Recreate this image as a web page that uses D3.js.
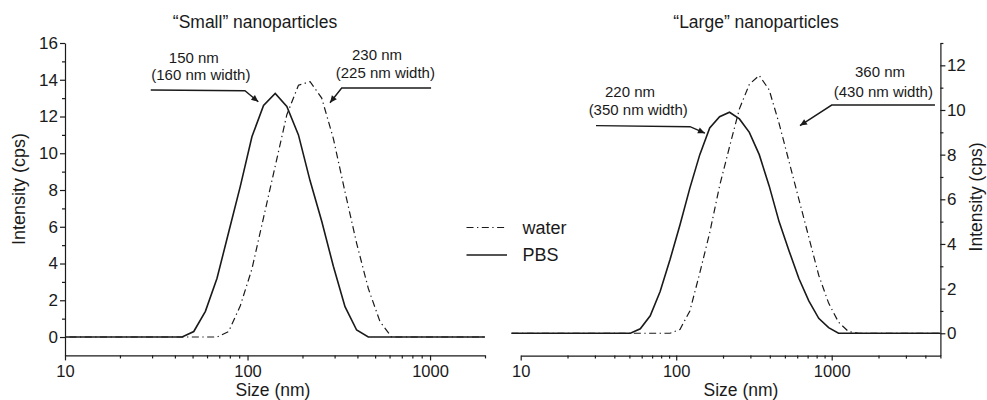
<!DOCTYPE html>
<html>
<head>
<meta charset="utf-8">
<script src="https://cdn.jsdelivr.net/npm/d3@7"></script>
<style>
  html, body { margin: 0; padding: 0; background: #fff; }
  svg text { font-family: "Liberation Sans", Arial, Helvetica, sans-serif; fill: #1a1a1a; }
</style>
</head>
<body>
<svg id="chart" width="987" height="400"></svg>
<script>
// DLS size bins (nm) shared by all four distributions
const sizeBins = [8.721, 10.1, 11.7, 13.54, 15.69, 18.17, 21.04, 24.36, 28.21, 32.67, 37.84,
  43.82, 50.75, 58.77, 68.06, 78.82, 91.28, 105.7, 122.4, 141.8, 164.2, 190.1, 220.2, 255.0,
  295.3, 342.0, 396.1, 458.7, 531.2, 615.1, 712.4, 825.0, 955.4, 1106, 1281, 1484, 1718, 1990,
  2305, 2669, 3091, 3580, 4145, 4801, 5560];

// Intensity (cps) per bin
const smallWater = [0, 0, 0, 0, 0, 0, 0, 0, 0, 0, 0,
  0, 0, 0, 0, 0.3, 1.7, 3.7, 6.5, 9.3, 12.1, 13.7, 13.9, 13.0,
  10.8, 7.9, 5.1, 2.65, 0.85, 0, 0, 0, 0, 0, 0, 0, 0, 0,
  0, 0, 0, 0, 0, 0, 0];
const smallPBS = [0, 0, 0, 0, 0, 0, 0, 0, 0, 0, 0,
  0, 0.3, 1.4, 3.2, 5.7, 8.2, 10.9, 12.6, 13.25, 12.55, 11.0, 8.5, 6.3,
  3.85, 1.65, 0.38, 0, 0, 0, 0, 0, 0, 0, 0, 0, 0, 0,
  0, 0, 0, 0, 0, 0, 0];
const largeWater = [0, 0, 0, 0, 0, 0, 0, 0, 0, 0, 0,
  0, 0, 0, 0, 0, 0, 0.17, 1.0, 2.7, 4.5, 6.6, 8.35, 10.05,
  11.15, 11.55, 10.9, 9.4, 7.7, 6.0, 4.3, 2.6, 1.35, 0.5, 0.08, 0, 0, 0,
  0, 0, 0, 0, 0, 0, 0];
const largePBS = [0, 0, 0, 0, 0, 0, 0, 0, 0, 0, 0,
  0, 0, 0.2, 0.78, 1.87, 3.3, 4.85, 6.5, 8.0, 9.2, 9.7, 9.9, 9.6,
  9.0, 8.0, 6.6, 5.0, 3.7, 2.45, 1.45, 0.67, 0.25, 0, 0, 0, 0, 0,
  0, 0, 0, 0, 0, 0, 0];

// Axis ticks
const xMajorTicks = [10, 100, 1000];
const xMinorSmall = [20, 30, 40, 50, 60, 70, 80, 90, 200, 300, 400, 500, 600, 700, 800, 900, 2000];
const xMinorLarge = [20, 30, 40, 50, 60, 70, 80, 90, 200, 300, 400, 500, 600, 700, 800, 900, 2000, 3000, 4000, 5000];
const yMajorSmall = [0, 2, 4, 6, 8, 10, 12, 14, 16];
const yMinorSmall = [1, 3, 5, 7, 9, 11, 13, 15];
const yMajorLarge = [0, 2, 4, 6, 8, 10, 12];
const yMinorLarge = [1, 3, 5, 7, 9, 11, 13];

// Texts
const panelTitles = ["\u201CSmall\u201D nanoparticles", "\u201CLarge\u201D nanoparticles"];
const xTitle = "Size (nm)";
const yTitle = "Intensity (cps)";
const seriesNames = ["water", "PBS"];

// Peak annotations: label lines and leader (tail -> elbow -> tip), in data units
const smallNotes = [
  { lines: [["150 nm", 50.8, 14.9], ["(160 nm width)", 55.5, 13.96]],
    leader: [[29.5, 13.44], [96.8, 13.4], [114.6, 12.8]] },
  { lines: [["230 nm", 512, 15.07], ["(225 nm width)", 569, 14.08]],
    leader: [[1013, 13.55], [328, 13.55], [283, 12.75]] }
];
const largeNotes = [
  { lines: [["220 nm", 50.5, 10.6], ["(350 nm width)", 57, 9.78]],
    leader: [[30.5, 9.3], [122.7, 9.25], [153, 8.96]] },
  { lines: [["360 nm", 2045, 11.46], ["(430 nm width)", 2148, 10.6]],
    leader: [[4613, 10.22], [1000, 10.22], [625, 9.3]] }
];

const svg = d3.select("#chart");
const ink = "#1a1a1a";
const dashDot = "7,3.5,1.3,3.5";

const defs = svg.append("defs");
defs.append("marker")
  .attr("id", "arrowHead")
  .attr("viewBox", "0 0 10 10")
  .attr("refX", 10).attr("refY", 5)
  .attr("markerWidth", 9).attr("markerHeight", 7)
  .attr("markerUnits", "userSpaceOnUse")
  .attr("orient", "auto")
  .append("path").attr("d", "M0,0.5 L10,5 L0,9.5 Z").attr("fill", ink);

const panels = [
  { key: "small", title: panelTitles[0], water: smallWater, pbs: smallPBS, notes: smallNotes,
    xDomain: [10, 2000], xRange: [65, 485], yDomain: [-1, 16], yRange: [355.4, 43],
    yMajor: yMajorSmall, yMinor: yMinorSmall, xMinor: xMinorSmall, side: "left",
    titleX: 255, xTitleX: 273, yTitlePos: [25, 189], yTitleSize: 18, clipX: [65, 485] },
  { key: "large", title: panelTitles[1], water: largeWater, pbs: largePBS, notes: largeNotes,
    xDomain: [10, 5000], xRange: [520.7, 940.4], yDomain: [-1, 13], yRange: [355.6, 43],
    yMajor: yMajorLarge, yMinor: yMinorLarge, xMinor: xMinorLarge, side: "right",
    titleX: 756, xTitleX: 741, yTitlePos: [982, 197], yTitleSize: 17.5, clipX: [505, 940.4] }
];

panels.forEach(p => {
  const x = d3.scaleLog().domain(p.xDomain).range(p.xRange);
  const y = d3.scaleLinear().domain(p.yDomain).range(p.yRange);
  const g = svg.append("g").attr("class", "panel-" + p.key);
  const xAxisY = y(p.yDomain[0]);
  const yAxisX = p.side === "left" ? p.xRange[0] : p.xRange[1];

  // x axis
  const xMajor = g.append("g").attr("transform", `translate(0,${xAxisY})`)
    .call(d3.axisBottom(x).tickValues(xMajorTicks).tickFormat(d3.format("d"))
      .tickSize(5).tickSizeOuter(0).tickPadding(4.5));
  g.append("g").attr("transform", `translate(0,${xAxisY})`)
    .call(d3.axisBottom(x).tickValues(p.xMinor).tickFormat("").tickSize(3).tickSizeOuter(0))
    .call(s => s.select(".domain").remove());

  // y axis
  const yAx = p.side === "left" ? d3.axisLeft(y) : d3.axisRight(y);
  const yMinAx = p.side === "left" ? d3.axisLeft(y) : d3.axisRight(y);
  g.append("g").attr("transform", `translate(${yAxisX},0)`)
    .call(yAx.tickValues(p.yMajor).tickFormat(d3.format("d")).tickSize(5).tickSizeOuter(0)
      .tickPadding(p.side === "left" ? 2 : 1.5));
  g.append("g").attr("transform", `translate(${yAxisX},0)`)
    .call(yMinAx.tickValues(p.yMinor).tickFormat("").tickSize(3).tickSizeOuter(0))
    .call(s => s.select(".domain").remove());

  g.selectAll(".domain, .tick line").attr("stroke", ink).attr("stroke-width", 1.2);
  g.selectAll(".tick text").attr("font-size", 17).attr("fill", ink);
  xMajor.selectAll(".tick text").attr("font-size", 16.5);

  // titles
  g.append("text").attr("x", p.titleX).attr("y", 27.5).attr("text-anchor", "middle")
    .attr("font-size", 17.5).text(p.title);
  g.append("text").attr("x", p.xTitleX).attr("y", 396.3).attr("text-anchor", "middle")
    .attr("font-size", 17.5).text(xTitle);
  g.append("text")
    .attr("transform", `translate(${p.yTitlePos[0]},${p.yTitlePos[1]}) rotate(-90)`)
    .attr("text-anchor", "middle").attr("font-size", p.yTitleSize).text(yTitle);

  // distributions
  const clipId = "clip-" + p.key;
  defs.append("clipPath").attr("id", clipId).append("rect")
    .attr("x", p.clipX[0]).attr("y", 0)
    .attr("width", p.clipX[1] - p.clipX[0]).attr("height", 400);
  const line = d3.line().x(d => x(d[0])).y(d => y(d[1]));
  const plot = g.append("g").attr("clip-path", `url(#${clipId})`);
  plot.append("path").datum(sizeBins.map((s, i) => [s, p.water[i]]))
    .attr("d", line).attr("fill", "none").attr("stroke", ink)
    .attr("stroke-width", 1.2).attr("stroke-dasharray", dashDot);
  plot.append("path").datum(sizeBins.map((s, i) => [s, p.pbs[i]]))
    .attr("d", line).attr("fill", "none").attr("stroke", ink)
    .attr("stroke-width", 1.6).attr("stroke-linejoin", "miter");

  // peak annotations
  p.notes.forEach(n => {
    n.lines.forEach(([t, sx, sy]) => {
      g.append("text").attr("x", x(sx)).attr("y", y(sy)).attr("text-anchor", "middle")
        .attr("font-size", 15).text(t);
    });
    g.append("path")
      .attr("d", d3.line().x(d => x(d[0])).y(d => y(d[1]))(n.leader))
      .attr("fill", "none").attr("stroke", ink).attr("stroke-width", 1.4)
      .attr("marker-end", "url(#arrowHead)");
  });
});

// legend between the panels
const legend = svg.append("g").attr("class", "legend");
const legendRows = [
  { name: seriesNames[0], dash: dashDot, width: 1.2, y: 227.5 },
  { name: seriesNames[1], dash: null, width: 1.6, y: 255 }
];
legendRows.forEach(r => {
  legend.append("line").attr("x1", 466.5).attr("x2", 507).attr("y1", r.y).attr("y2", r.y)
    .attr("stroke", ink).attr("stroke-width", r.width)
    .attr("stroke-dasharray", r.dash);
  legend.append("text").attr("x", 522.5).attr("y", r.y).attr("dy", "0.35em")
    .attr("font-size", 18).text(r.name);
});
</script>
</body>
</html>
